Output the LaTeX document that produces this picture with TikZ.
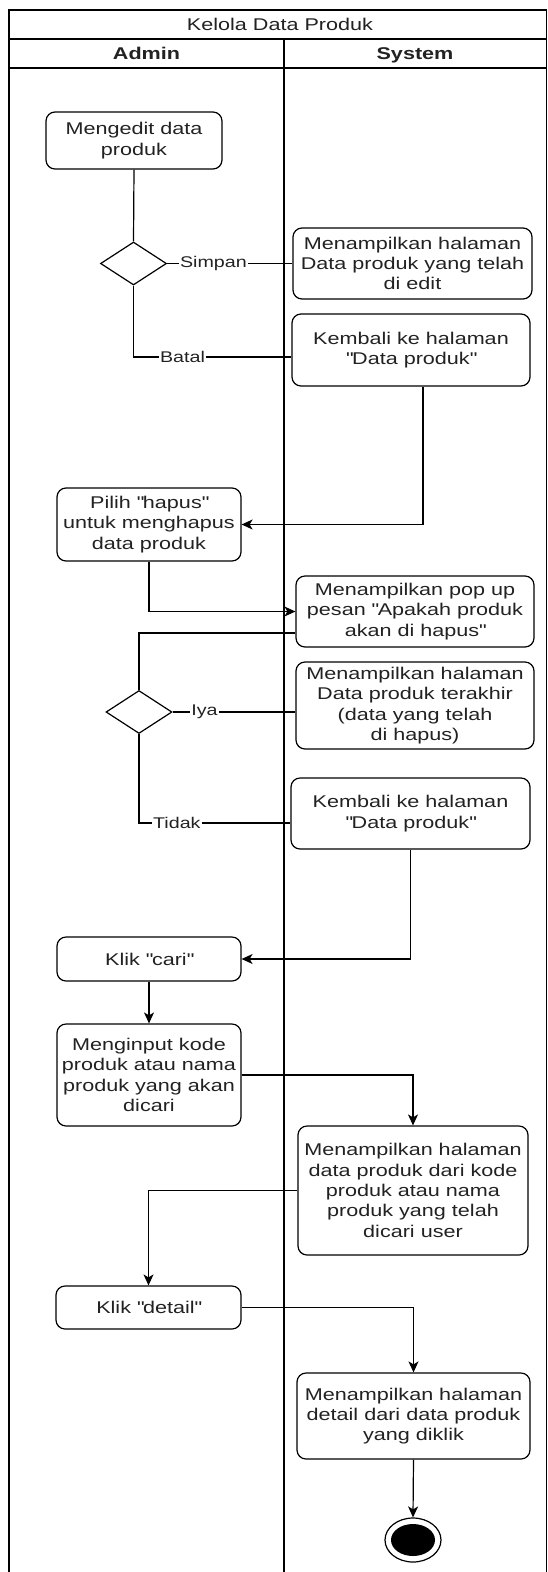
\documentclass[tikz,border=0pt]{standalone}
\usepackage{fontspec}
\setmainfont{Liberation Sans}[FakeStretch=1.27]
\usetikzlibrary{arrows.meta,shapes.geometric,calc}
\definecolor{txt}{HTML}{222222}
\newcommand{\qd}{\textquotedbl}
\begin{document}
\begin{tikzpicture}[x=1pt,y=-1pt,
  act/.style={draw=black, line width=1.2pt, rounded corners=9pt, align=center,
    inner sep=0pt, text=txt, font=\fontsize{17}{20.3}\selectfont},
  dec/.style={draw=black, line width=1.2pt, diamond, inner sep=0pt},
  lbl/.style={fill=white, inner sep=1pt, text=txt, font=\fontsize{15.5}{18}\selectfont},
  head/.style={text=txt, font=\fontsize{17}{20}\selectfont, anchor=base},
  link/.style={line width=1.2pt, draw=black},
  flow/.style={line width=1.2pt, draw=black, -{Stealth[length=11pt,width=10pt,inset=3pt]}},
  lane/.style={line width=1.2pt, draw=black}
]
\useasboundingbox (0,0) rectangle (548,1572);
\fill[white] (0,0) rectangle (548,1572);

% swimlane frame
\draw[lane] (9,1572) -- (9,10) -- (546.5,10) -- (546.5,1572);
\draw[lane] (9,39) -- (546.5,39);
\draw[lane] (9,68) -- (546.5,68);
\draw[lane] (284,39) -- (284,1572);
\node[head] (title) at (280,30.5) {Kelola Data Produk};
\node[head, font=\fontsize{17}{20}\selectfont\bfseries] (admin) at (146.5,59.5) {Admin};
\node[head, font=\fontsize{17}{20}\selectfont\bfseries] (system) at (415,59.5) {System};

% activities
\node[act, minimum width=176, minimum height=57] (b1) at (134,140.5) {Mengedit data\\produk};
\node[dec, minimum width=66, minimum height=43] (d1) at (133.5,263.5) {};
\node[act, minimum width=239, minimum height=71] (b3) at (412.5,263.5) {Menampilkan halaman\\Data produk yang telah\\di edit};
\node[act, minimum width=238, minimum height=72] (b4) at (411,350) {Kembali ke halaman\\\qd Data produk\qd};
\node[act, minimum width=184, minimum height=73] (b5) at (149,524.5) {Pilih \qd hapus\qd\\untuk menghapus\\data produk};
\node[act, minimum width=238, minimum height=71] (b6) at (415,611.5) {Menampilkan pop up\\pesan \qd Apakah produk\\akan di hapus\qd};
\node[dec, minimum width=66, minimum height=43] (d2) at (139,712) {};
\node[act, minimum width=238, minimum height=87] (b8) at (415,705.5) {Menampilkan halaman\\Data produk terakhir\\(data yang telah\\di hapus)};
\node[act, minimum width=239, minimum height=71] (b9) at (410.5,813.5) {Kembali ke halaman\\\qd Data produk\qd};
\node[act, minimum width=184, minimum height=44] (b10) at (149,959) {Klik \qd cari\qd};
\node[act, minimum width=184, minimum height=102] (b11) at (149,1075) {Menginput kode\\produk atau nama\\produk yang akan\\dicari};
\node[act, minimum width=230, minimum height=129] (b12) at (413,1190.5) {Menampilkan halaman\\data produk dari kode\\produk atau nama\\produk yang telah\\dicari user};
\node[act, minimum width=185, minimum height=43] (b13) at (148.5,1307.5) {Klik \qd detail\qd};
\node[act, minimum width=233, minimum height=86] (b14) at (413.5,1416) {Menampilkan halaman\\detail dari data produk\\yang diklik};
\node[draw=black, line width=1.2pt, ellipse, minimum width=56, minimum height=44, inner sep=0pt] (end) at (413,1540) {};
\node[fill=black, ellipse, minimum width=44, minimum height=32, inner sep=0pt] (endin) at (end.center) {};

% connectors
\draw[link] (b1.south) -- (d1.north);
\draw[link] (d1.east) -- node[lbl, pos=0.37] {Simpan} (b3.west |- d1.east);
\coordinate (c1) at ($(b4.west)+(0,7)$);
\draw[link] (d1.south) -- (d1.south |- c1) -- node[lbl, pos=0.31] {Batal} (c1);
\coordinate (c2) at ($(b4.south)+(12,0)$);
\draw[flow] (c2) |- (b5.east);
\draw[flow] (b5.south) |- (b6.west);
\coordinate (c3) at ($(b6.west)+(0,21.5)$);
\draw[link] (c3) -| (d2.north);
\draw[link] (d2.east) -- node[lbl, pos=0.26] {Iya} (d2.east -| b8.west);
\coordinate (c4) at ($(b9.west)+(0,9.5)$);
\draw[link] (d2.south) -- (d2.south |- c4) -- node[lbl, pos=0.25] {Tidak} (c4);
\draw[flow] (b9.south) |- (b10.east);
\draw[flow] (b10.south) -- (b11.north);
\draw[flow] (b11.east) -| (b12.north);
\draw[flow] (b12.west) -| (b13.north);
\draw[flow] (b13.east) -| (b14.north);
\draw[flow] (b14.south) -- (end.north);
\end{tikzpicture}
\end{document}
